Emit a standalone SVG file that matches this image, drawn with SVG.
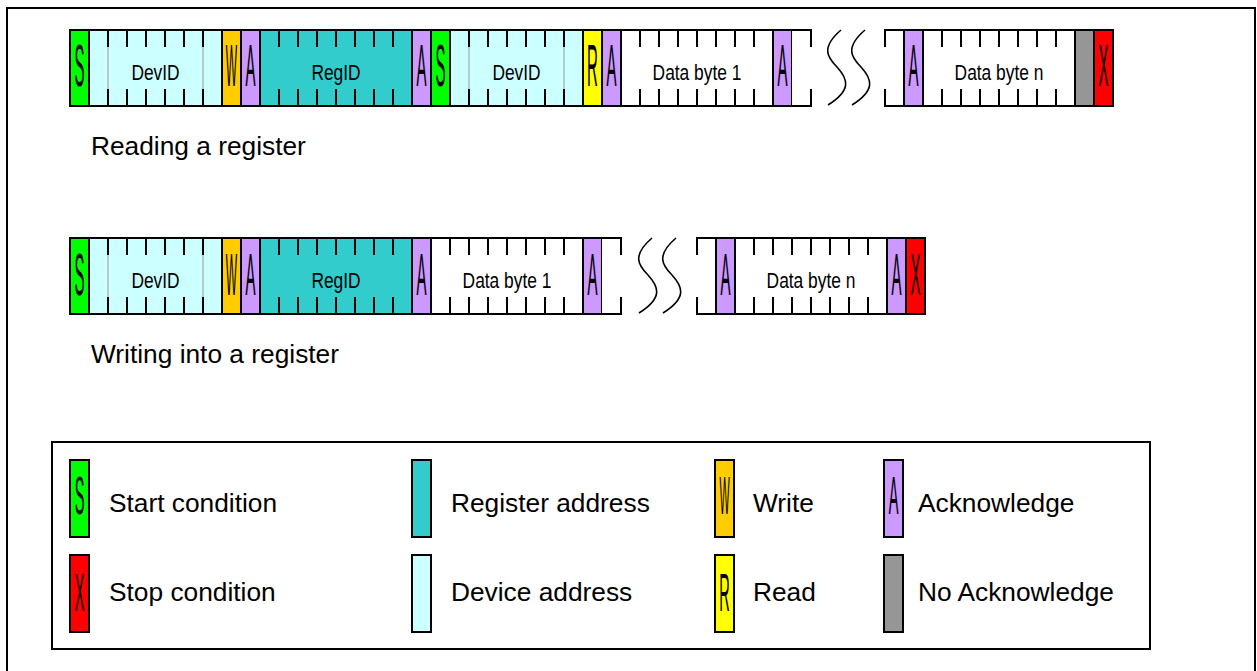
<svg xmlns="http://www.w3.org/2000/svg" width="1257" height="671" viewBox="0 0 1257 671">
<style>
.f{stroke:#000;stroke-width:2}
.tk{stroke:#000;stroke-width:2;fill:none}
.gl{stroke:#999;stroke-width:1}
.sq{stroke:#000;stroke-width:1.6;fill:none}
.bit{font-family:"Liberation Sans",Arial,sans-serif;font-size:60px;text-anchor:middle;fill:#000}
.lbit{font-family:"Liberation Sans",Arial,sans-serif;font-size:54px;text-anchor:middle;fill:#000}
.lbl{font-family:"Liberation Sans",Arial,sans-serif;font-size:22px;text-anchor:middle;fill:#000}
.big{font-family:"Liberation Sans",Arial,sans-serif;font-size:26.3px;fill:#000}
.leg{font-family:"Liberation Sans",Arial,sans-serif;font-size:26.3px;fill:#000}
.cS{fill:#00FF00}.cD{fill:#CCFFFF}.cR{fill:#33CCCC}.cW{fill:#FFCC00}.cA{fill:#CC99FF}.cRd{fill:#FFFF00}.cX{fill:#FF0000}.cN{fill:#969696}.cE{fill:#FFFFFF}
</style>
<rect width="1257" height="671" fill="#fff"/>
<path d="M7,680V8H1255V680" fill="none" stroke="#000" stroke-width="2"/>

<!-- Row 1: Reading a register -->
<g id="r1-start1"><rect class="f cS" x="70" y="30" width="19" height="76"/><text class="bit" transform="translate(79.5,85.5) scale(0.25,1)">S</text></g>
<g id="r1-devid1"><rect class="f cD" x="89" y="30" width="133" height="76"/><path class="gl" d="M108 30V106M203 30V106"/><path class="tk" d="M108 30V47M127 30V47M146 30V47M165 30V47M184 30V47M203 30V47M108 89V106M127 89V106M146 89V106M165 89V106M184 89V106M203 89V106"/><text class="lbl" transform="translate(155.5,80) scale(0.79,1)">DevID</text></g>
<g id="r1-write"><rect class="f cW" x="222" y="30" width="19" height="76"/><text class="bit" transform="translate(231.5,85.5) scale(0.2,1)">W</text></g>
<g id="r1-ack1"><rect class="f cA" x="241" y="30" width="19" height="76"/><text class="bit" transform="translate(250.5,85.5) scale(0.25,1)">A</text></g>
<g id="r1-regid"><rect class="f cR" x="260" y="30" width="152" height="76"/><path class="tk" d="M279 30V47M298 30V47M317 30V47M336 30V47M355 30V47M374 30V47M393 30V47M279 89V106M298 89V106M317 89V106M336 89V106M355 89V106M374 89V106M393 89V106"/><text class="lbl" transform="translate(336,80) scale(0.79,1)">RegID</text></g>
<g id="r1-ack2"><rect class="f cA" x="412" y="30" width="19" height="76"/><text class="bit" transform="translate(421.5,85.5) scale(0.25,1)">A</text></g>
<g id="r1-start2"><rect class="f cS" x="431" y="30" width="19" height="76"/><text class="bit" transform="translate(440.5,85.5) scale(0.25,1)">S</text></g>
<g id="r1-devid2"><rect class="f cD" x="450" y="30" width="133" height="76"/><path class="gl" d="M469 30V106M564 30V106"/><path class="tk" d="M469 30V47M488 30V47M507 30V47M526 30V47M545 30V47M564 30V47M469 89V106M488 89V106M507 89V106M526 89V106M545 89V106M564 89V106"/><text class="lbl" transform="translate(516.5,80) scale(0.79,1)">DevID</text></g>
<g id="r1-read"><rect class="f cRd" x="583" y="30" width="19" height="76"/><text class="bit" transform="translate(592.5,85.5) scale(0.25,1)">R</text></g>
<g id="r1-ack3"><rect class="f cA" x="602" y="30" width="19" height="76"/><text class="bit" transform="translate(611.5,85.5) scale(0.25,1)">A</text></g>
<g id="r1-data1"><rect class="f cE" x="621" y="30" width="152" height="76"/><path class="tk" d="M640 30V47M659 30V47M678 30V47M697 30V47M716 30V47M735 30V47M754 30V47M640 89V106M659 89V106M678 89V106M697 89V106M716 89V106M735 89V106M754 89V106"/><text class="lbl" transform="translate(697,80) scale(0.79,1)">Data byte 1</text></g>
<g id="r1-ack4"><rect class="f cA" x="773" y="30" width="19" height="76"/><text class="bit" transform="translate(782.5,85.5) scale(0.25,1)">A</text></g>
<g id="r1-cont1"><rect class="cE" x="792" y="30" width="19" height="76"/><path class="tk" d="M792 30H811V47M792 106H811V89"/></g>
<g id="r1-cont2"><rect class="cE" x="885" y="30" width="19" height="76"/><path class="tk" d="M904 30H885V47M904 106H885V89"/></g>
<g id="r1-ack5"><rect class="f cA" x="904" y="30" width="19" height="76"/><text class="bit" transform="translate(913.5,85.5) scale(0.25,1)">A</text></g>
<g id="r1-datan"><rect class="f cE" x="923" y="30" width="152" height="76"/><path class="tk" d="M942 30V47M961 30V47M980 30V47M999 30V47M1018 30V47M1037 30V47M1056 30V47M942 89V106M961 89V106M980 89V106M999 89V106M1018 89V106M1037 89V106M1056 89V106"/><text class="lbl" transform="translate(999,80) scale(0.79,1)">Data byte n</text></g>
<g id="r1-nack"><rect class="f cN" x="1075" y="30" width="19" height="76"/></g>
<g id="r1-stop"><rect class="f cX" x="1094" y="30" width="19" height="76"/><text class="bit" transform="translate(1103.5,85.5) scale(0.25,1)">X</text></g>
<g id="t-reading"><text class="big" x="91" y="155">Reading a register</text></g>

<!-- Row 2: Writing into a register -->
<g id="r2-start"><rect class="f cS" x="70" y="238" width="19" height="76"/><text class="bit" transform="translate(79.5,294.5) scale(0.25,1)">S</text></g>
<g id="r2-devid"><rect class="f cD" x="89" y="238" width="133" height="76"/><path class="gl" d="M108 238V314M203 238V314"/><path class="tk" d="M108 238V255M127 238V255M146 238V255M165 238V255M184 238V255M203 238V255M108 297V314M127 297V314M146 297V314M165 297V314M184 297V314M203 297V314"/><text class="lbl" transform="translate(155.5,288) scale(0.79,1)">DevID</text></g>
<g id="r2-write"><rect class="f cW" x="222" y="238" width="19" height="76"/><text class="bit" transform="translate(231.5,294.5) scale(0.2,1)">W</text></g>
<g id="r2-ack1"><rect class="f cA" x="241" y="238" width="19" height="76"/><text class="bit" transform="translate(250.5,294.5) scale(0.25,1)">A</text></g>
<g id="r2-regid"><rect class="f cR" x="260" y="238" width="152" height="76"/><path class="tk" d="M279 238V255M298 238V255M317 238V255M336 238V255M355 238V255M374 238V255M393 238V255M279 297V314M298 297V314M317 297V314M336 297V314M355 297V314M374 297V314M393 297V314"/><text class="lbl" transform="translate(336,288) scale(0.79,1)">RegID</text></g>
<g id="r2-ack2"><rect class="f cA" x="412" y="238" width="19" height="76"/><text class="bit" transform="translate(421.5,294.5) scale(0.25,1)">A</text></g>
<g id="r2-data1"><rect class="f cE" x="431" y="238" width="152" height="76"/><path class="tk" d="M450 238V255M469 238V255M488 238V255M507 238V255M526 238V255M545 238V255M564 238V255M450 297V314M469 297V314M488 297V314M507 297V314M526 297V314M545 297V314M564 297V314"/><text class="lbl" transform="translate(507,288) scale(0.79,1)">Data byte 1</text></g>
<g id="r2-ack3"><rect class="f cA" x="583" y="238" width="19" height="76"/><text class="bit" transform="translate(592.5,294.5) scale(0.25,1)">A</text></g>
<g id="r2-cont1"><rect class="cE" x="602" y="238" width="19" height="76"/><path class="tk" d="M602 238H621V255M602 314H621V297"/></g>
<g id="r2-cont2"><rect class="cE" x="697" y="238" width="19" height="76"/><path class="tk" d="M716 238H697V255M716 314H697V297"/></g>
<g id="r2-ack4"><rect class="f cA" x="716" y="238" width="19" height="76"/><text class="bit" transform="translate(725.5,294.5) scale(0.25,1)">A</text></g>
<g id="r2-datan"><rect class="f cE" x="735" y="238" width="152" height="76"/><path class="tk" d="M754 238V255M773 238V255M792 238V255M811 238V255M830 238V255M849 238V255M868 238V255M754 297V314M773 297V314M792 297V314M811 297V314M830 297V314M849 297V314M868 297V314"/><text class="lbl" transform="translate(811,288) scale(0.79,1)">Data byte n</text></g>
<g id="r2-ack5"><rect class="f cA" x="887" y="238" width="19" height="76"/><text class="bit" transform="translate(896.5,294.5) scale(0.25,1)">A</text></g>
<g id="r2-stop"><rect class="f cX" x="906" y="238" width="19" height="76"/><text class="bit" transform="translate(915.5,294.5) scale(0.25,1)">X</text></g>
<g id="t-writing"><text class="big" x="91" y="363">Writing into a register</text></g>

<!-- break marks -->
<g id="connectors">
<path class="sq" d="M841,30 C820,48 828,58 837,67 C848,79 852,90 828,105"/>
<path class="sq" d="M865,30 C844,48 852,58 861,67 C872,79 876,90 852,105"/>
<path class="sq" d="M652,238 C631,256 639,266 648,275 C659,287 663,298 639,313"/>
<path class="sq" d="M676,238 C655,256 663,266 672,275 C683,287 687,298 663,313"/>
</g>

<!-- Legend -->
<g id="legend">
<rect x="52" y="442" width="1098" height="207" fill="#fff" stroke="#000" stroke-width="2"/>
<g id="lg-start"><rect class="f cS" x="70" y="460" width="19" height="77"/><text class="lbit" transform="translate(79.5,514) scale(0.27,1)">S</text><text class="leg" x="109" y="512">Start condition</text></g>
<g id="lg-stop"><rect class="f cX" x="70" y="555" width="19" height="77"/><text class="lbit" transform="translate(79.5,611) scale(0.27,1)">X</text><text class="leg" x="109" y="601">Stop condition</text></g>
<g id="lg-reg"><rect class="f cR" x="412" y="460" width="19" height="77"/><text class="leg" x="451" y="512">Register address</text></g>
<g id="lg-dev"><rect class="f cD" x="412" y="555" width="19" height="77"/><text class="leg" x="451" y="601">Device address</text></g>
<g id="lg-write"><rect class="f cW" x="715" y="460" width="19" height="77"/><text class="lbit" transform="translate(724.5,514) scale(0.2,1)">W</text><text class="leg" x="753" y="512">Write</text></g>
<g id="lg-read"><rect class="f cRd" x="715" y="555" width="19" height="77"/><text class="lbit" transform="translate(724.5,611) scale(0.27,1)">R</text><text class="leg" x="753" y="601">Read</text></g>
<g id="lg-ack"><rect class="f cA" x="884" y="460" width="19" height="77"/><text class="lbit" transform="translate(893.5,514) scale(0.27,1)">A</text><text class="leg" x="918" y="512">Acknowledge</text></g>
<g id="lg-nack"><rect class="f cN" x="884" y="555" width="19" height="77"/><text class="leg" x="918" y="601">No Acknowledge</text></g>
</g>
</svg>
